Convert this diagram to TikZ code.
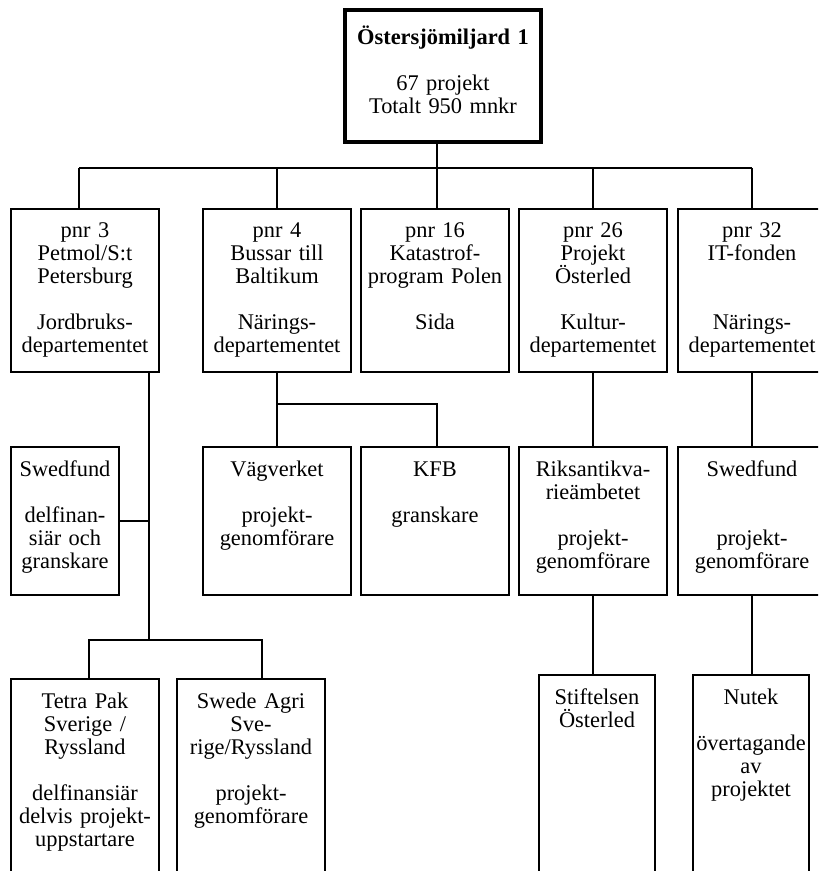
\documentclass[tikz,border=0pt]{standalone}
\usepackage{fontspec}
\setmainfont{Liberation Serif}
\usetikzlibrary{positioning, calc}

\tikzset{
  orgbox/.style={draw, line width=1pt, anchor=north, inner sep=0pt, align=center,
    text height=14.5pt, font=\fontsize{11.2}{11.5}\selectfont},
  projbox/.style={orgbox, text width=74pt, text depth=67pt},
  rolebox/.style={orgbox, text width=74pt, text depth=59.5pt},
  lowbox/.style={orgbox, text width=74pt, text depth=110pt},
  link/.style={line width=1pt}
}

\begin{document}
\begin{tikzpicture}[x=0.5pt, y=-0.5pt]
  \useasboundingbox (0,0) rectangle (818,871);
  \clip (0,0) rectangle (818,871);

  % Top
  \node[orgbox, line width=2pt, text width=98pt, text height=17.5pt, text depth=48.5pt] (top) at (443,8)
    {\textbf{Östersjömiljard 1}\\[\baselineskip]67 projekt\\Totalt 950 mnkr};

  % Projects
  \node[projbox] (p3) at (85,208) {pnr 3\\Petmol/S:t\\Petersburg\\[\baselineskip]Jordbruks-\\departementet};
  \node[projbox] (p4) at (277,208) {pnr 4\\Bussar till\\Baltikum\\[\baselineskip]Närings-\\departementet};
  \node[projbox] (p16) at (435,208) {pnr 16\\Katastrof-\\program Polen\\[\baselineskip]Sida};
  \node[projbox] (p26) at (593,208) {pnr 26\\Projekt\\Österled\\[\baselineskip]Kultur-\\departementet};
  \node[projbox] (p32) at (752,208) {pnr 32\\IT-fonden\\[2\baselineskip]Närings-\\departementet};

  % Second level
  \node[rolebox, text width=54pt] (swl) at (65,446) {Swedfund\\[\baselineskip]delfinan-\\siär och\\granskare};
  \node[rolebox] (vag) at (277,446) {Vägverket\\[\baselineskip]projekt-\\genomförare};
  \node[rolebox] (kfb) at (435,446) {KFB\\[\baselineskip]granskare};
  \node[rolebox] (riks) at (593,446) {Riksantikva-\\rieämbetet\\[\baselineskip]projekt-\\genomförare};
  \node[rolebox] (swr) at (752,446) {Swedfund\\[2\baselineskip]projekt-\\genomförare};

  % Third level
  \node[lowbox] (tetra) at (85,678) {Tetra Pak\\Sverige /\\Ryssland\\[\baselineskip]delfinansiär\\delvis projekt-\\uppstartare};
  \node[lowbox] (agri) at (251,678) {Swede Agri\\Sve-\\rige/Ryssland\\[\baselineskip]projekt-\\genomförare};
  \node[lowbox, text width=58pt] (stift) at (597,674) {Stiftelsen\\Österled};
  \node[lowbox, text width=58pt] (nutek) at (751,674) {Nutek\\[\baselineskip]övertagande\\av\\projektet};

  % Lines from the top
  \coordinate (bus) at (0,168);
  \coordinate (p3in) at ([xshift=-3pt]p3.north);
  \coordinate (p16in) at ([xshift=1pt]p16.north);
  \draw[link] (top.south -| p16in) -- (p16in);
  \draw[link] (p3in |- bus) -- (p32.north |- bus);
  \draw[link] (p3in |- bus) -- (p3in);
  \foreach \p in {p4,p26,p32}
    \draw[link] (\p.north |- bus) -- (\p.north);

  % pnr 3
  \coordinate (p3out) at ([xshift=32pt]p3.south);
  \coordinate (lowbus) at (0,640);
  \coordinate (tin) at ([xshift=2pt]tetra.north);
  \coordinate (ain) at ([xshift=5.5pt]agri.north);
  \draw[link] (p3out) -- (p3out |- lowbus);
  \draw[link] (swl.east) -- (swl.east -| p3out);
  \draw[link] (tin) -- (tin |- lowbus) -- (ain |- lowbus) -- (ain);

  % pnr 4
  \coordinate (kbus) at (0,404);
  \coordinate (kin) at ([xshift=1pt]kfb.north);
  \draw[link] (p4.south) -- (vag.north);
  \draw[link] (p4.south |- kbus) -| (kin);

  % pnr 26 and pnr 32
  \draw[link] (p26.south) -- (riks.north);
  \draw[link] (riks.south) -- (riks.south |- stift.north);
  \draw[link] (p32.south) -- (swr.north);
  \draw[link] (swr.south) -- (swr.south |- nutek.north);
\end{tikzpicture}
\end{document}
